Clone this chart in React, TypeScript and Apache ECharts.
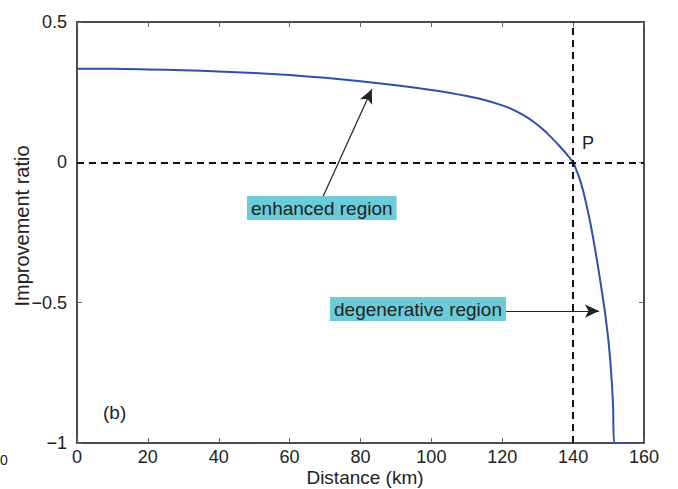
import React, { useEffect, useRef } from "react";
import * as echarts from "echarts";

const distanceKm = [0, 10, 20, 30, 40, 50, 60, 70, 80, 90, 100, 105, 110, 115, 120, 123, 126, 129, 132, 134, 136, 138, 139, 140, 141, 142, 143, 144, 145, 146, 147, 148, 149, 149.5, 150, 150.5, 151, 151.3, 151.6, 154, 156];
const improvementRatio = [0.333, 0.333, 0.331, 0.328, 0.324, 0.318, 0.311, 0.301, 0.289, 0.275, 0.258, 0.248, 0.236, 0.222, 0.203, 0.188, 0.168, 0.143, 0.112, 0.087, 0.06, 0.032, 0.016, 0, -0.03, -0.065, -0.11, -0.165, -0.225, -0.295, -0.37, -0.45, -0.535, -0.585, -0.64, -0.71, -0.8, -0.88, -1, -1, -1];
const xTicks = [0, 20, 40, 60, 80, 100, 120, 140, 160];
const yTicks = [-1, -0.5, 0, 0.5];
const crossX = 140;
const crossY = 0;

const FONT = '"Liberation Sans", Arial, Helvetica, sans-serif';
const TXT = "#222";

function fmt(v: number) {
  return String(v).replace("-", "\u2212");
}

export default function App() {
  const ref = useRef<HTMLDivElement>(null);
  useEffect(() => {
    if (!ref.current) return;
    const chart = echarts.init(ref.current, undefined, { renderer: "svg" });
    const tickStyle = { show: true, inside: true, length: 5, lineStyle: { color: "#666", width: 1 } };
    const axisLine = { show: true, onZero: false, lineStyle: { color: "#111", width: 1.5 } };
    chart.setOption({
      animation: false,
      backgroundColor: "#fff",
      textStyle: { fontFamily: FONT },
      grid: { left: 77, right: 34, top: 22, bottom: 46 },
      xAxis: [
        {
          type: "value", min: xTicks[0], max: xTicks[xTicks.length - 1], interval: 20,
          axisLine, axisTick: tickStyle, splitLine: { show: false },
          axisLabel: { fontSize: 18, color: TXT, margin: 5, fontFamily: FONT, formatter: (v: number) => fmt(v) },
        },
        {
          type: "value", position: "top", min: 0, max: 160, interval: 20,
          axisLine, axisTick: tickStyle, splitLine: { show: false }, axisLabel: { show: false },
        },
      ],
      yAxis: [
        {
          type: "value", min: yTicks[0], max: yTicks[yTicks.length - 1], interval: 0.5,
          axisLine, axisTick: tickStyle, splitLine: { show: false },
          axisLabel: { fontSize: 18, color: TXT, margin: 10, fontFamily: FONT, formatter: (v: number) => fmt(v) },
        },
        {
          type: "value", position: "right", min: -1, max: 0.5, interval: 0.5,
          axisLine, axisTick: tickStyle, splitLine: { show: false }, axisLabel: { show: false },
        },
      ],
      series: [
        {
          type: "line",
          data: distanceKm.map((d, i) => [d, improvementRatio[i]]),
          showSymbol: false,
          smooth: 0.2,
          lineStyle: { color: "#2f4fae", width: 2 },
          z: 3,
          markLine: {
            silent: true,
            symbol: ["none", "none"],
            label: { show: false },
            lineStyle: { color: "#111", type: [7, 5], width: 2 },
            data: [
              [{ coord: [0, crossY] }, { coord: [160, crossY] }],
              [{ coord: [crossX, -1] }, { coord: [crossX, 0.5] }],
            ],
          },
        },
        {
          type: "line",
          data: [],
          markLine: {
            silent: true,
            symbol: ["none", "arrow"],
            symbolSize: [10, 14],
            label: { show: false },
            lineStyle: { color: "#222", type: "solid", width: 1.2 },
            data: [
              [{ coord: [69.5, -0.12] }, { coord: [83.2, 0.26] }],
              [{ coord: [121, -0.53] }, { coord: [147.3, -0.53] }],
            ],
          },
        },
      ],
      graphic: [
        { type: "text", left: 247, top: 196, z: 10, style: { text: "enhanced region", fontSize: 19, fontFamily: FONT, fill: TXT, backgroundColor: "#6ccbd9", padding: [3, 4, 2, 4] } },
        { type: "text", left: 330, top: 297, z: 10, style: { text: "degenerative region", fontSize: 19, fontFamily: FONT, fill: TXT, backgroundColor: "#6ccbd9", padding: [3, 4, 2, 4] } },
        { type: "text", left: 582, top: 134, style: { text: "P", fontSize: 18, fontFamily: FONT, fill: TXT } },
        { type: "text", left: 103, top: 403, style: { text: "(b)", fontSize: 19, fontFamily: FONT, fill: TXT } },
        { type: "text", x: 365, y: 477, style: { text: "Distance (km)", fontSize: 19, fontFamily: FONT, fill: TXT, align: "center", verticalAlign: "middle" } },
        { type: "text", x: 22, y: 226, rotation: Math.PI / 2, style: { text: "Improvement ratio", fontSize: 20, fontFamily: FONT, fill: TXT, align: "center", verticalAlign: "middle" } },
        { type: "text", x: 0, y: 460, style: { text: "0", fontSize: 14, fontFamily: FONT, fill: TXT, verticalAlign: "middle" } },
      ],
    });
    return () => chart.dispose();
  }, []);
  return <div ref={ref} style={{ width: 678, height: 489, position: "fixed", left: 0, top: 0 }} />;
}
